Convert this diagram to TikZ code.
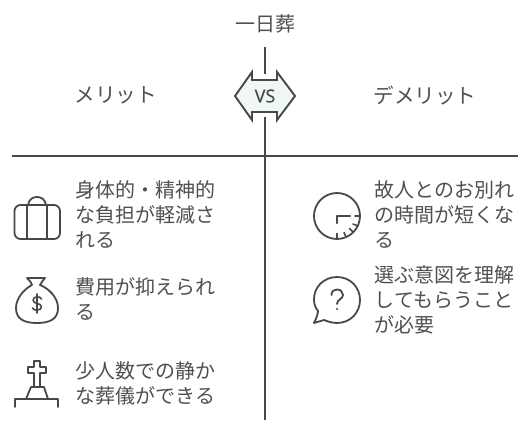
\documentclass[tikz,border=0pt]{standalone}
\usepackage{fontspec}
\setmainfont{Noto Sans CJK JP}[ItalicFont={Noto Sans CJK JP}]
\setsansfont{Open Sans}
\definecolor{ink}{HTML}{484848}
\definecolor{txt}{HTML}{505050}
\definecolor{mint}{HTML}{EFF8F5}
\tikzset{
  axis/.style={draw=ink,line width=2pt},
  icon/.style={draw=ink,line width=1.8pt,line cap=round,line join=round},
  thinicon/.style={icon,line width=1.6pt},
  head/.style={inner sep=0pt,text=txt,font=\fontsize{20}{25}\selectfont},
  wide/.style={head,font=\fontsize{20.6}{25}\selectfont},
  body/.style={inner sep=0pt,anchor=north west,align=left,text=txt,font=\fontsize{20}{25}\selectfont},
}
\begin{document}
\begin{tikzpicture}[x=1pt,y=-1pt]
\useasboundingbox (0,0) rectangle (531,433);
\fill[white] (0,0) rectangle (531,433);
% axes
\coordinate (vtop) at (265,47);
\coordinate (vin) at (265,74);
\coordinate (vout) at (265,117);
\coordinate (vbot) at (265,420);
\coordinate (hl) at (12,156);
\coordinate (hr) at (518,156);
\draw[axis] (vtop) -- (vin);
\draw[axis] (vout) -- (vbot);
\draw[axis] (hl) -- (hr);
% VS badge
\draw[draw=ink,line width=1.9pt,fill=mint,line join=miter]
  (235,96) -- (252,72) -- (252,80) -- (277,80) -- (277,72) -- (295,96)
  -- (277,120) -- (277,112) -- (252,112) -- (252,120) -- cycle;
\node[inner sep=0pt,text=ink] (vs) at (265,96) {\sffamily\fontsize{18}{18}\selectfont\addfontfeature{FakeBold=0.5}VS};
% headings
\node[head] (title) at (265,23.500) {一日葬};
\node[wide] (merit) at (116,95) {メリット};
\node[wide] (demerit) at (425,95) {デメリット};
% texts
\node[body] (a) at (75.500,180.500) {身体的・精神的\\な負担が軽減さ\\れる};
\node[body] (b) at (75.500,277.500) {費用が抑えられ\\る};
\node[body] (c) at (75.500,361.500) {少人数での静か\\な葬儀ができる};
\node[body] (d) at (374.500,180.500) {故人とのお別れ\\の時間が短くな\\る};
\node[body] (e) at (374.500,265.500) {選ぶ意図を理解\\してもらうこと\\が必要};
% briefcase
\draw[icon] (14.500,211) arc[start angle=180,end angle=270,radius=6] -- (54,205) arc[start angle=270,end angle=360,radius=6] -- (60,233) arc[start angle=0,end angle=90,radius=6] -- (20.500,239) arc[start angle=90,end angle=180,radius=6] -- cycle;
\draw[icon] (27,205) -- (27,239) (47,205) -- (47,239);
\draw[icon] (28,205) .. controls (29,199) and (33,197) .. (37,197) .. controls (41,197) and (45,199) .. (46,205);
% money bag
\draw[icon] (32,285) .. controls (31,281) and (28,280) .. (27,278) -- (45,278) .. controls (44,280) and (41,282) .. (40,285)
  .. controls (48,288) and (58,297) .. (58,308) .. controls (58,319) and (50,323) .. (37,323)
  .. controls (24,323) and (16,319) .. (16,308) .. controls (16,297) and (26,288) .. (32,285) -- cycle;
\draw[thinicon] (41.500,299) .. controls (41,296) and (33,296) .. (33,300) .. controls (33,304.500) and (41.500,302.500) .. (41.500,307) .. controls (41.500,311) and (33,311) .. (32.500,308);
\draw[thinicon] (37,294) -- (37,313);
% grave
\draw[icon] (15,407) -- (15,399) -- (58,399) -- (58,407);
\draw[icon] (26,399) -- (31,387) -- (44,387) -- (48,399);
\draw[icon] (34,387) -- (34,373) -- (28,373) -- (28,367) -- (34,367) -- (34,361) -- (40,361) -- (40,367) -- (46,367) -- (46,373) -- (40,373) -- (40,387);
% clock
\draw[icon] (337,216) circle[radius=23];
\draw[icon,line width=2.2pt] (337,223) -- (337,216) -- (350,216);
\draw[thinicon] (360,216) -- (355,216) (357.800,226) -- (353,224) (353,232) -- (349.500,228.500) (346,237) -- (344,232.500) (337,239) -- (337,233.500);
% speech bubble
\draw[icon] (314,323) .. controls (317,317) and (318,313) .. (318,311)
  .. controls (315,307) and (314,304) .. (314,299) .. controls (314,287) and (324,277) .. (337,277)
  .. controls (350,277) and (360,287) .. (360,300) .. controls (360,313) and (350,323) .. (337,323)
  .. controls (331,323) and (327,321) .. (324,320) -- cycle;
\draw[icon] (331.500,295) .. controls (331.500,291) and (334,289.500) .. (337,289.500) .. controls (340.500,289.500) and (343,292) .. (343,295) .. controls (343,299) and (337,299.500) .. (337,304);
\fill[ink] (337,309) circle[radius=1.2];
\end{tikzpicture}
\end{document}
